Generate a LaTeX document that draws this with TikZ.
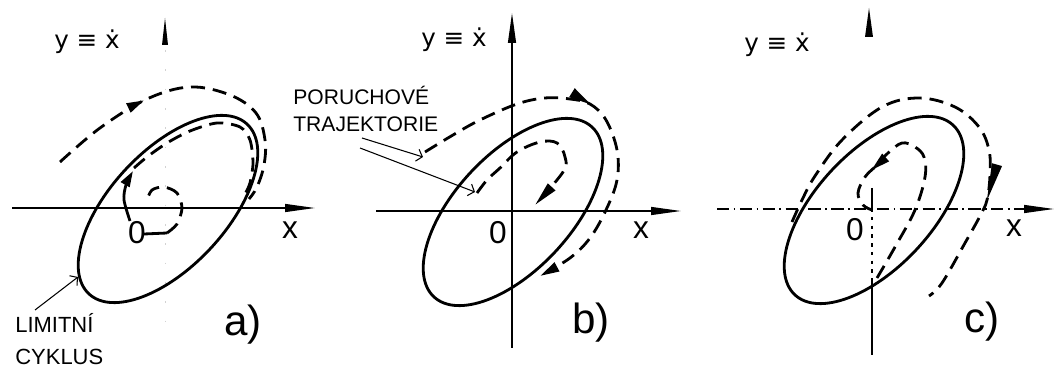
\documentclass[tikz,border=0pt]{standalone}
\usepackage{fontspec}
\setmainfont{Liberation Sans}
\newfontfamily\symfont{DejaVu Sans}
\usetikzlibrary{arrows.meta,decorations.markings}

\begin{document}
\begin{tikzpicture}[x=0.02cm, y=-0.02cm,
  axis/.style={line width=0.8pt},
  limcyc/.style={line width=1.6pt},
  traj/.style={line width=1.6pt, dash pattern=on 8pt off 4.5pt},
  tip/.style={-{Triangle[length=#1,width=5.5pt]}},
  axtip/.style={-{Triangle[length=17pt,width=4.5pt]}},
  midarrow/.style 2 args={postaction={decorate,decoration={markings,
      mark=at position #1 with {\arrow{Triangle[length=#2,width=5.5pt]}}}}},
  pointer/.style={line width=0.6pt, -{Straight Barb[length=3pt,width=7pt]}},
  ylbl/.style={font=\symfont\fontsize{14}{14}\selectfont, inner sep=0pt},
  lbl/.style={font=\fontsize{18}{18}\selectfont, inner sep=0pt},
  panel/.style={font=\fontsize{24}{24}\selectfont, inner sep=0pt},
  note/.style={font=\fontsize{12.5}{12.5}\selectfont, inner sep=0pt, anchor=base west}]
  \useasboundingbox (0,0) rectangle (1054,367);

  % a) stable limit cycle
  \draw[gray!35, line width=0.5pt, dash pattern=on 1pt off 10pt] (165,50) -- (165,335);
  \draw[axis, axtip] (12,208) -- (315,208);
  \fill (162,45) -- (165,18) -- (168,45) -- cycle;
  \draw[limcyc, rotate around={47:(168,209)}] (168,209) ellipse[x radius=116, y radius=58];
  \draw[traj, midarrow={0.33}{10pt}] plot[smooth, tension=0.6] coordinates {(60,162) (100,128) (147,99) (190,87) (230,95) (256,113) (265,140) (264,165) (257,187) (249,199)};
  \draw[limcyc] (144,234) -- (167,233);
  \draw[traj] plot[smooth] coordinates {(167,233) (177,224) (182,208) (177,193) (164,187) (152,190) (147,200)};
  \draw[limcyc, tip=9pt] plot[smooth] coordinates {(130,221) (124,200) (126,185) (133,171)};
  \draw[traj] plot[smooth] coordinates {(134,168) (147,157) (167,143) (190,131) (217,123) (240,127) (250,140) (253,163) (250,183) (245,194)};
  \node[ylbl] (ya) at (87,42) {y ≡ ẋ};
  \node[lbl] (oa) at (137,233) {0};
  \node[lbl] (xa) at (290,230) {x};
  \node[panel] (pa) at (243,325) {a)};
  \node[note] (lim) at (15,333) {LIMITNÍ};
  \node[note] (cyk) at (15,365) {CYKLUS};
  \coordinate (limfrom) at (35,310);
  \coordinate (limto) at (78,277);
  \draw[pointer] (limfrom) -- (limto);

  % b)
  \draw[axis, axtip] (376,211) -- (681,211);
  \draw[axis, axtip] (512,348) -- (512,13);
  \draw[limcyc, rotate around={47:(513,212)}] (513,212) ellipse[x radius=116, y radius=58];
  \draw[traj, midarrow={0.46}{13pt}, tip=11pt] plot[smooth, tension=0.6] coordinates {(425,152) (453,135) (480,120) (517,104) (545,98) (570,99) (590,104) (606,120) (617,150) (617,180) (606,210) (590,238) (570,258) (540,276)};
  \draw[traj, tip=14pt] plot[smooth, tension=0.6] coordinates {(477,193) (487,180) (500,168) (517,152) (540,142) (557,143) (565,157) (563,172) (535,205)};
  \node[ylbl] (yb) at (454,40) {y ≡ ẋ};
  \node[lbl] (ob) at (498,233) {0};
  \node[lbl] (xb) at (641,230) {x};
  \node[panel] (pb) at (591,323) {b)};
  \node[note, font=\fontsize{12}{12}\selectfont] (por) at (293,105) {PORUCHOVÉ};
  \node[note, font=\fontsize{12}{12}\selectfont] (trj) at (293,132) {TRAJEKTORIE};
  \coordinate (p1from) at (362,138);
  \coordinate (p1to) at (423,157);
  \coordinate (p2from) at (360,148);
  \coordinate (p2to) at (475,192);
  \draw[pointer] (p1from) -- (p1to);
  \draw[pointer] (p2from) -- (p2to);

  % c) unstable limit cycle
  \draw[axis, axtip, dash pattern=on 7pt off 2.5pt on 1pt off 2.5pt] (717,209) -- (1054,209);
  \draw[axis] (872,188) -- (872,208);
  \draw[axis, dash pattern=on 2pt off 3pt] (872,208) -- (872,280);
  \draw[axis] (872,280) -- (872,355);
  \fill (865,37) -- (869,8) -- (873,37) -- cycle;
  \draw[limcyc, rotate around={47:(874,210)}] (874,210) ellipse[x radius=116, y radius=58];
  \draw[traj, midarrow={0.75}{22pt}] plot[smooth, tension=0.6] coordinates {(792,222) (802,200) (815,176) (842,140) (882,107) (919,98) (955,107) (979,127) (989,150) (990,175) (987,200) (980,216) (965,243) (942,283) (929,296)};
  \draw[traj, midarrow={0.80}{11pt}] plot[smooth, tension=0.6] coordinates {(877,278) (895,247) (915,210) (925,177) (924,157) (915,147) (902,143) (888,153) (877,165) (865,177) (858,193) (863,205) (872,210)};
  \node[ylbl] (yc) at (777,45) {y ≡ ẋ};
  \node[lbl] (oc) at (855,230) {0};
  \node[lbl] (xc) at (1014,228) {x};
  \node[panel] (pc) at (982,322) {c)};
\end{tikzpicture}
\end{document}
